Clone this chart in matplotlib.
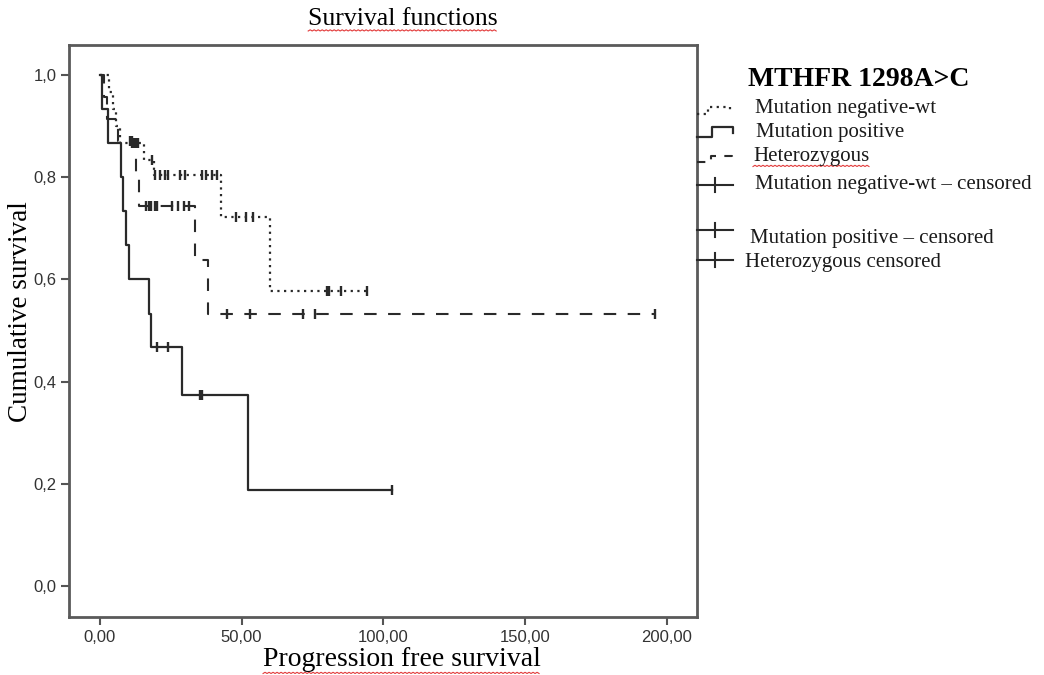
import numpy as np
import matplotlib
matplotlib.use('Agg')
import matplotlib.pyplot as plt
from matplotlib.lines import Line2D

plt.rcParams['font.family'] = ['Liberation Serif', 'DejaVu Serif']

# Kaplan-Meier steps (time, cumulative survival)
neg_times = [0, 3.2, 4.5, 5.8, 7.2, 15.5, 19.0, 42.9, 60.0, 94.1]
neg_surv = [1.0, 0.967, 0.933, 0.900, 0.867, 0.833, 0.804, 0.723, 0.578, 0.578]
neg_cens = [11.2, 11.9, 12.6, 13.4, 18.3, 19.6, 21.2, 22.9, 24.1, 28.4, 30.0,
            35.9, 37.6, 39.4, 41.2, 48.2, 51.4, 54.1, 80.0, 81.0, 85.0, 94.1]

pos_times = [0, 0.9, 2.9, 7.3, 8.2, 9.2, 10.3, 17.2, 17.9, 28.8, 52.1, 102.9]
pos_surv = [1.0, 0.933, 0.867, 0.800, 0.733, 0.667, 0.600, 0.533, 0.467,
            0.373, 0.187, 0.187]
pos_cens = [20.0, 24.1, 35.3, 35.9, 102.9]

het_times = [0, 1.6, 2.4, 6.5, 12.9, 13.8, 33.5, 38.0, 195.8]
het_surv = [1.0, 0.957, 0.913, 0.870, 0.806, 0.744, 0.638, 0.532, 0.532]
het_cens = [10.5, 11.5, 16.2, 17.3, 18.2, 19.3, 20.3, 25.5, 27.7, 29.8, 31.4,
            44.7, 52.9, 71.7, 75.9, 195.8]

x_ticks = [0, 50, 100, 150, 200]
y_ticks = [0.0, 0.2, 0.4, 0.6, 0.8, 1.0]

legend_title = 'MTHFR 1298A>C'
legend_labels = ['Mutation negative-wt', 'Mutation positive', 'Heterozygous',
                 'Mutation negative-wt \u2013 censored',
                 'Mutation positive \u2013 censored', 'Heterozygous censored']

W, H = 1044, 675
LINE = '#2a2a2a'


def px(x, y):
    return x / W, 1 - y / H


def level_at(times, surv, t):
    i = np.searchsorted(times, t, side='right') - 1
    return surv[i]


def squiggle(fig, txt):
    # red spell-check underline like the word processor screenshot
    bb = txt.get_window_extent()
    xs = np.arange(bb.x0, bb.x1, 2.0)
    ys = bb.y0 - 1.0 + 1.2 * (np.arange(len(xs)) % 2)
    fig.add_artist(Line2D(xs / W, ys / H, transform=fig.transFigure,
                          color='#e23a3a', lw=0.8))


fig = plt.figure(figsize=(W / 100, H / 100), dpi=100)
ax = fig.add_axes([69 / W, 1 - 617 / H, (697 - 69) / W, (617 - 45) / H])

styles = [
    (neg_times, neg_surv, neg_cens, dict(linestyle=(0, (1.0, 2.0)), lw=1.6)),
    (pos_times, pos_surv, pos_cens, dict(linestyle='-', lw=1.6)),
    (het_times, het_surv, het_cens, dict(linestyle=(0, (6, 5.5)), lw=1.5)),
]
for times, surv, cens, st in styles:
    ax.step(times, surv, where='post', color=LINE, **st)
    cy = [level_at(times, surv, c) for c in cens]
    ax.plot(cens, cy, linestyle='none', marker='|', markersize=7.5,
            markeredgewidth=1.7, color=LINE)

ax.set_xlim(-10.9, 210.7)
ax.set_ylim(-0.0607, 1.0587)
ax.set_xticks(x_ticks)
ax.set_xticklabels([('%.2f' % v).replace('.', ',') for v in x_ticks],
                   family='Liberation Sans', fontsize=12, color='#333333')
ax.set_yticks(y_ticks)
ax.set_yticklabels([('%.1f' % v).replace('.', ',') for v in y_ticks],
                   family='Liberation Sans', fontsize=12, color='#333333')
ax.tick_params(direction='out', length=6, width=1.5, color='#555555', pad=3)
for s in ax.spines.values():
    s.set_color('#5a5a5a')
    s.set_linewidth(2)

t_title = fig.text(*px(403, 19), 'Survival functions', ha='center',
                   va='center', fontsize=18.5)
t_xlab = fig.text(*px(402, 660), 'Progression free survival', ha='center',
                  va='center', fontsize=20)
fig.text(*px(21, 312), 'Cumulative survival', ha='center', va='center',
         rotation=90, fontsize=19.5)

# legend drawn by hand, outside the frame
fig.text(*px(748, 80), legend_title, ha='left', va='center', fontsize=20,
         fontweight='bold')
label_pos = [(755, 109), (756, 132), (753, 156), (755, 184), (750, 238),
             (745, 262)]
leg_texts = []
for (lx, ly), lab in zip(label_pos, legend_labels):
    leg_texts.append(fig.text(*px(lx, ly), lab, ha='left', va='center',
                              fontsize=15, color='#1a1a1a'))

handles = [
    ([697, 708, 708, 730, 730], [114, 114, 107, 107, 112], styles[0][3]),
    ([697, 712, 712, 733, 733], [137, 137, 127, 127, 133], styles[1][3]),
    ([697, 711, 711, 732, 732], [162, 162, 156, 156, 160],
     dict(linestyle=(0, (4, 4)), lw=1.5)),
]
for hx, hy, st in handles:
    xx, yy = zip(*[px(a, b) for a, b in zip(hx, hy)])
    fig.add_artist(Line2D(xx, yy, transform=fig.transFigure, color=LINE, **st))
for hy in [185, 230, 260]:
    (x0, y0), (x1, _) = px(697, hy), px(733, hy)
    fig.add_artist(Line2D([x0, x1], [y0, y0], transform=fig.transFigure,
                          color=LINE, lw=1.5))
    tx, ty0 = px(715, hy - 7)
    _, ty1 = px(715, hy + 7)
    fig.add_artist(Line2D([tx, tx], [ty0, ty1], transform=fig.transFigure,
                          color=LINE, lw=1.5))

fig.canvas.draw()
squiggle(fig, t_title)
squiggle(fig, t_xlab)
squiggle(fig, leg_texts[2])

fig.savefig('out.png', dpi=100, facecolor='white')
